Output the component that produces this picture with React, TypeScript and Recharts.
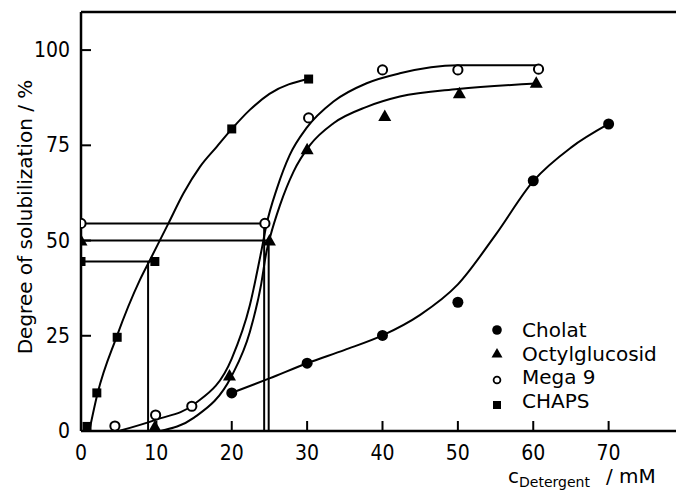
import { ComposedChart, Line, Scatter, XAxis, YAxis, ReferenceLine, Label } from 'recharts';

const xTicks = [0, 10, 20, 30, 40, 50, 60, 70];
const yTicks = [0, 25, 50, 75, 100];

// measured points
const cholatPoints = [
  { x: 20, y: 10 }, { x: 30, y: 17.8 }, { x: 40, y: 25.1 },
  { x: 50, y: 33.8 }, { x: 60, y: 65.7 }, { x: 70, y: 80.6 },
];
const octylPoints = [
  { x: 0, y: 50 }, { x: 9.8, y: 1.2 }, { x: 19.7, y: 14.6 }, { x: 25, y: 50 },
  { x: 30, y: 74 }, { x: 40.3, y: 82.7 }, { x: 50.2, y: 88.7 }, { x: 60.4, y: 91.4 },
];
const megaPoints = [
  { x: 0, y: 54.5 }, { x: 4.5, y: 1.3 }, { x: 9.9, y: 4.2 }, { x: 14.7, y: 6.5 },
  { x: 24.4, y: 54.5 }, { x: 30.2, y: 82.2 }, { x: 40, y: 94.8 }, { x: 50, y: 94.8 },
  { x: 60.7, y: 95 },
];
const chapsPoints = [
  { x: 0, y: 44.5 }, { x: 0.8, y: 1.2 }, { x: 2.1, y: 10 }, { x: 4.8, y: 24.6 },
  { x: 9.8, y: 44.5 }, { x: 20, y: 79.3 }, { x: 30.2, y: 92.4 },
];

// fitted curves
const cholatCurve = [
  { x: 20, y: 10 }, { x: 25, y: 13.8 }, { x: 30, y: 17.8 }, { x: 35, y: 21.3 },
  { x: 40, y: 25.1 }, { x: 45, y: 30.5 }, { x: 50, y: 38.5 }, { x: 55, y: 51.5 },
  { x: 60, y: 65.6 }, { x: 65, y: 74.4 }, { x: 70, y: 80.6 },
];
const octylCurve = [
  { x: 10.5, y: 0 }, { x: 15, y: 3.5 }, { x: 20, y: 14.5 }, { x: 22.4, y: 26 },
  { x: 23.9, y: 38.5 }, { x: 24.6, y: 47 }, { x: 25.1, y: 51 }, { x: 26.4, y: 59.3 },
  { x: 28.2, y: 68.1 }, { x: 30.4, y: 75.1 }, { x: 33.5, y: 80.8 }, { x: 37.9, y: 85.1 },
  { x: 42.3, y: 87.8 }, { x: 50, y: 89.8 }, { x: 60.4, y: 91.2 },
];
const megaCurve = [
  { x: 5, y: 0 }, { x: 10, y: 3 }, { x: 15, y: 7 }, { x: 20, y: 19 },
  { x: 22.4, y: 33 }, { x: 23.9, y: 47 }, { x: 24.6, y: 54.1 }, { x: 26, y: 63.7 },
  { x: 27.7, y: 72.5 }, { x: 29.9, y: 79.5 }, { x: 33.5, y: 86.5 }, { x: 37.9, y: 91.3 },
  { x: 42.3, y: 93.9 }, { x: 50, y: 96 }, { x: 60.5, y: 96 },
];
const chapsCurve = [
  { x: 1.1, y: 0 }, { x: 2.2, y: 9.9 }, { x: 4.7, y: 24.6 }, { x: 7.8, y: 39.6 },
  { x: 9.15, y: 44.9 }, { x: 11.6, y: 54.5 }, { x: 13.6, y: 62.4 }, { x: 15.8, y: 69.4 },
  { x: 18, y: 74.6 }, { x: 20.1, y: 79.5 }, { x: 22.4, y: 84.3 }, { x: 25, y: 88.5 },
  { x: 30.1, y: 92.4 },
];

// guide lines: CHAPS, Octylglucosid, Mega 9
const guideLevels = [44.5, 50, 54.5];
const guideEnds = [9.8, 25, 24.4];
const guideDrops = [8.9, 24.9, 24.3];

const legendNames = ['Cholat', 'Octylglucosid', 'Mega 9', 'CHAPS'];

const FONT = '"DejaVu Sans", sans-serif';
const DIGITS = '"DejaVu Sans Condensed", "DejaVu Sans", sans-serif';

const FilledCircle = (p: any) => <circle cx={p.cx} cy={p.cy} r={5.5} fill="#000" />;
const OpenCircle = (p: any) => <circle cx={p.cx} cy={p.cy} r={4.6} fill="#fff" stroke="#000" strokeWidth={2} />;
const Triangle = (p: any) => (
  <path d={`M${p.cx},${p.cy - 6.5} L${p.cx + 6.5},${p.cy + 5} L${p.cx - 6.5},${p.cy + 5} Z`} fill="#000" />
);
const Square = (p: any) => <rect x={p.cx - 4.5} y={p.cy - 4.5} width={9} height={9} fill="#000" />;

const YTick = (props: any) => {
  const { x, y, payload } = props;
  return (
    <g>
      <line x1={x} x2={x + 10} y1={y} y2={y} stroke="#000" strokeWidth={2} />
      <text x={x - 11} y={y} dy={7} textAnchor="end" fontFamily={DIGITS} fontSize={21} fill="#000">
        {payload.value}
      </text>
    </g>
  );
};

const XTick = (props: any) => {
  const { x, y, payload } = props;
  return (
    <g>
      {payload.value !== 0 && <line x1={x} x2={x} y1={y} y2={y - 10} stroke="#000" strokeWidth={2} />}
      <text x={x} y={y + 29} textAnchor="middle" fontFamily={DIGITS} fontSize={21} fill="#000">
        {payload.value}
      </text>
    </g>
  );
};

const LegendBox = () => {
  const markers = [
    <circle key="a" cx={12} cy={14} r={4.8} fill="#000" />,
    <path key="b" d="M12,32 L17.5,41.5 L6.5,41.5 Z" fill="#000" />,
    <circle key="c" cx={12} cy={64} r={3.4} fill="#fff" stroke="#000" strokeWidth={1.8} />,
    <rect key="d" x={8} y={85} width={8} height={8} fill="#000" />,
  ];
  return (
    <svg width={190} height={100} style={{ position: 'absolute', left: 485, top: 316 }}>
      {markers}
      {legendNames.map((n, i) => (
        <text key={n} x={37} y={21 + i * 23.7} fontFamily={FONT} fontSize={20} fill="#000">
          {n}
        </text>
      ))}
    </svg>
  );
};

const curveProps = {
  type: 'monotone' as const,
  dataKey: 'y',
  stroke: '#000',
  strokeWidth: 2,
  dot: false,
  activeDot: false,
  isAnimationActive: false,
  legendType: 'none' as const,
};

export default function App() {
  return (
    <div style={{ position: 'fixed', left: 0, top: 0, width: 676, height: 492, overflow: 'hidden', background: '#fff' }}>
      <ComposedChart width={700} height={492} margin={{ top: 12, right: 16, bottom: 21, left: 21 }}>
        <XAxis
          dataKey="x"
          type="number"
          domain={[0, 80]}
          ticks={xTicks}
          allowDataOverflow
          height={40}
          tickSize={0}
          tickMargin={0}
          tickLine={false}
          tick={<XTick />}
          axisLine={{ stroke: '#000', strokeWidth: 2.5 }}
        >
          <Label
            content={() => (
              <text x={508} y={483} fontFamily={FONT} fontSize={20} fill="#000">
                <tspan>c</tspan>
                <tspan fontSize={14} dy={4}>Detergent</tspan>
                <tspan x={606} dy={-4}>/ mM</tspan>
              </text>
            )}
          />
        </XAxis>
        <YAxis
          dataKey="y"
          type="number"
          domain={[0, 110]}
          ticks={yTicks}
          allowDataOverflow
          width={60}
          tickSize={0}
          tickMargin={0}
          tickLine={false}
          tick={<YTick />}
          axisLine={{ stroke: '#000', strokeWidth: 2.5 }}
        >
          <Label
            content={() => (
              <text
                x={32}
                y={217}
                transform="rotate(-90, 32, 217)"
                textAnchor="middle"
                fontFamily={FONT}
                fontSize={20}
                fill="#000"
              >
                Degree of solubilization / %
              </text>
            )}
          />
        </YAxis>
        <ReferenceLine y={110} stroke="#000" strokeWidth={2.5} />
        {guideLevels.map((lvl, i) => (
          <ReferenceLine
            key={`h${i}`}
            segment={[{ x: 0, y: lvl }, { x: guideEnds[i], y: lvl }]}
            stroke="#000"
            strokeWidth={2}
          />
        ))}
        {guideLevels.map((lvl, i) => (
          <ReferenceLine
            key={`v${i}`}
            segment={[{ x: guideDrops[i], y: 0 }, { x: guideDrops[i], y: lvl }]}
            stroke="#000"
            strokeWidth={2}
          />
        ))}
        <Line data={cholatCurve} {...curveProps} />
        <Line data={octylCurve} {...curveProps} />
        <Line data={megaCurve} {...curveProps} />
        <Line data={chapsCurve} {...curveProps} />
        <Scatter name="Cholat" data={cholatPoints} shape={FilledCircle} isAnimationActive={false} />
        <Scatter name="Octylglucosid" data={octylPoints} shape={Triangle} isAnimationActive={false} />
        <Scatter name="Mega 9" data={megaPoints} shape={OpenCircle} isAnimationActive={false} />
        <Scatter name="CHAPS" data={chapsPoints} shape={Square} isAnimationActive={false} />
      </ComposedChart>
      <LegendBox />
    </div>
  );
}
